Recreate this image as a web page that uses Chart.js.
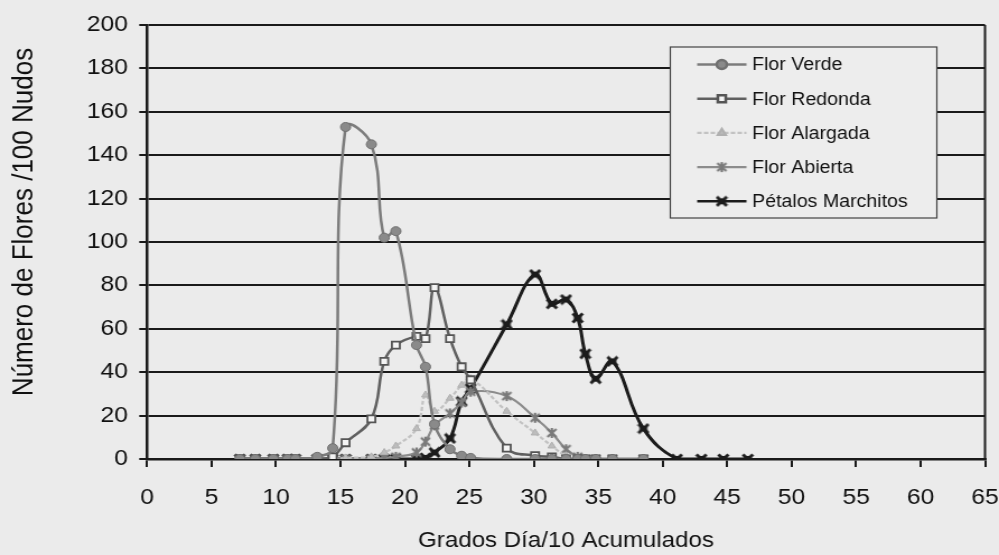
<!DOCTYPE html>
<html>
<head>
<meta charset="utf-8">
<title>Flores por grados día acumulados</title>
<script src="https://cdn.jsdelivr.net/npm/chart.js@4.4.1/dist/chart.umd.min.js"></script>
<style>
  html, body { margin: 0; padding: 0; background: #ebebeb; overflow: hidden; }
  #grafico { display: block; }
</style>
</head>
<body>
<!-- drawn at 892 wide and widened by CSS, like the printed figure -->
<canvas id="grafico" width="892" height="555" style="width:999px;height:555px"></canvas>
<script>
// Grados día/10 acumulados de cada muestreo
const grados = [7.2, 8.4, 9.8, 10.9, 11.5, 13.2, 14.4, 15.4, 17.4, 18.4, 19.3, 20.9, 21.6, 22.3, 23.5,
                24.4, 25.1, 27.9, 30.1, 31.4, 32.5, 33.4, 34.0, 34.8, 36.1, 38.5, 41.1, 43.0, 44.7, 46.6];

// Flores por 100 nudos en cada estado
const florVerde    = [0, 0, 0, 0, 0, 1, 5, 153, 145, 102, 105, 52.5, 42.5, 16, 4.5, 1.5, 0.5, 0, 0, 0, 0, 0, 0, 0, 0, 0];
const florRedonda  = [0, 0, 0, 0, 0, 0, 1, 7.5, 18.5, 45, 52.5, 56.5, 55.5, 79, 55.5, 42.5, 36.5, 5, 1.5, 1, 0, 0, 0, 0, 0, 0];
const florAlargada = [0, 0, 0, 0, 0, 0, 0, 0.5, 1, 3, 6, 14, 29.5, 22, 28, 34, 37, 22, 12, 6, 1.5, 0.5, 0, 0, 0, 0];
const florAbierta  = [0, 0, 0, 0, 0, 0, 0, 0, 0, 0.5, 1, 3, 8, 15.5, 21, 26, 31, 29, 19, 12, 4.5, 1, 0, 0, 0, 0];
const petalosMarchitos = [0, 0, 0, 0, 0, 0, 0, 0, 0, 0, 0, 0, 0.5, 3, 9.5, 26.5, 32.5, 62, 85, 71.5, 73.5,
                          65, 48.5, 37, 45, 14, 0, 0, 0, 0];

const xTicks = { min: 0, max: 65, step: 5 };
const yTicks = { min: 0, max: 200, step: 20 };

const tituloX = 'Grados Día/10 Acumulados';
const tituloY = 'Número de Flores /100 Nudos';

const FUENTE = "'Liberation Sans', Arial, sans-serif";

function puntos(valores) {
  return valores.map((v, i) => ({ x: grados[i], y: v }));
}

// asterisco gris (x con barra vertical)
function marcaAsterisco(color) {
  const c = document.createElement('canvas');
  c.width = 12; c.height = 12;
  const g = c.getContext('2d');
  g.strokeStyle = color;
  g.lineWidth = 2.2;
  g.beginPath();
  g.moveTo(2, 2); g.lineTo(10, 10);
  g.moveTo(10, 2); g.lineTo(2, 10);
  g.moveTo(6, 1); g.lineTo(6, 11);
  g.stroke();
  return c;
}

// cuadrado negro con aspa
function marcaMarchitos(color) {
  const c = document.createElement('canvas');
  c.width = 12; c.height = 12;
  const g = c.getContext('2d');
  g.fillStyle = color;
  g.fillRect(2.5, 3, 7, 6);
  g.strokeStyle = color;
  g.lineWidth = 3;
  g.beginPath();
  g.moveTo(1.5, 1.5); g.lineTo(10.5, 10.5);
  g.moveTo(10.5, 1.5); g.lineTo(1.5, 10.5);
  g.stroke();
  return c;
}

const fondo = {
  id: 'fondo',
  beforeDraw(chart) {
    const ctx = chart.ctx;
    ctx.save();
    ctx.fillStyle = '#ebebeb';
    ctx.fillRect(0, 0, chart.width, chart.height);
    ctx.restore();
  }
};

// marco derecho del área de trazado y título vertical (algo por encima del centro)
const marco = {
  id: 'marco',
  beforeDatasetsDraw(chart) {
    const a = chart.chartArea;
    const ctx = chart.ctx;
    ctx.save();
    ctx.strokeStyle = '#1a1a1a';
    ctx.lineWidth = 2;
    ctx.beginPath();
    ctx.moveTo(a.right, a.top);
    ctx.lineTo(a.right, a.bottom);
    ctx.stroke();

    ctx.translate(21.6, (a.top + a.bottom) / 2 - 20);
    ctx.rotate(-Math.PI / 2);
    ctx.font = '26px ' + FUENTE;
    ctx.fillStyle = '#111';
    ctx.textAlign = 'center';
    ctx.textBaseline = 'middle';
    ctx.fillText(tituloY, 0, 0);
    ctx.restore();
  }
};

// leyenda enmarcada dentro del área de trazado
const leyenda = {
  id: 'leyenda',
  afterDatasetsDraw(chart) {
    const ctx = chart.ctx;
    const a = chart.chartArea;
    const izq = a.right - 281;
    const arriba = a.top + 22;
    const ancho = 238;
    const alto = 171;
    ctx.save();
    ctx.fillStyle = '#ededed';
    ctx.fillRect(izq, arriba, ancho, alto);
    ctx.strokeStyle = '#444';
    ctx.lineWidth = 1.2;
    ctx.strokeRect(izq, arriba, ancho, alto);
    ctx.font = '17.5px ' + FUENTE;
    ctx.textBaseline = 'middle';
    chart.data.datasets.forEach((ds, i) => {
      const y = arriba + 17.5 + i * 34.2;
      ctx.strokeStyle = ds.borderColor;
      ctx.lineWidth = Math.min(ds.borderWidth, 2.5);
      ctx.setLineDash(ds.borderDash || []);
      ctx.beginPath();
      ctx.moveTo(izq + 24, y);
      ctx.lineTo(izq + 68, y);
      ctx.stroke();
      ctx.setLineDash([]);
      ctx.fillStyle = ds.pointBackgroundColor;
      ctx.strokeStyle = ds.pointBorderColor;
      Chart.helpers.drawPoint(ctx, {
        pointStyle: ds.pointStyle,
        radius: ds.pointRadius,
        rotation: 0,
        borderWidth: ds.pointBorderWidth
      }, izq + 46, y);
      ctx.fillStyle = '#111';
      ctx.fillText(ds.label, izq + 73, y + 1);
    });
    ctx.restore();
  }
};

new Chart(document.getElementById('grafico'), {
  type: 'scatter',
  data: {
    datasets: [
      {
        label: 'Flor Verde',
        data: puntos(florVerde),
        showLine: true,
        borderColor: '#7c7c7c',
        borderWidth: 2.5,
        pointStyle: 'circle',
        pointRadius: 4.5,
        pointBackgroundColor: '#8a8a8a',
        pointBorderColor: '#707070',
        pointBorderWidth: 1
      },
      {
        label: 'Flor Redonda',
        data: puntos(florRedonda),
        showLine: true,
        borderColor: '#606060',
        borderWidth: 2.5,
        pointStyle: 'rect',
        pointRadius: 5,
        pointBackgroundColor: '#f4f4f4',
        pointBorderColor: '#555555',
        pointBorderWidth: 1.8
      },
      {
        label: 'Flor Alargada',
        data: puntos(florAlargada),
        showLine: true,
        borderColor: '#c2c2c2',
        borderWidth: 2.2,
        borderDash: [4, 2],
        pointStyle: 'triangle',
        pointRadius: 4,
        pointBackgroundColor: '#bdbdbd',
        pointBorderColor: '#b0b0b0',
        pointBorderWidth: 1
      },
      {
        label: 'Flor Abierta',
        data: puntos(florAbierta),
        showLine: true,
        borderColor: '#8c8c8c',
        borderWidth: 2.2,
        pointStyle: marcaAsterisco('#7a7a7a'),
        pointRadius: 5,
        pointBackgroundColor: '#7a7a7a',
        pointBorderColor: '#7a7a7a',
        pointBorderWidth: 0
      },
      {
        label: 'Pétalos Marchitos',
        data: puntos(petalosMarchitos),
        showLine: true,
        borderColor: '#1c1c1c',
        borderWidth: 3,
        pointStyle: marcaMarchitos('#1c1c1c'),
        pointRadius: 5,
        pointBackgroundColor: '#1c1c1c',
        pointBorderColor: '#1c1c1c',
        pointBorderWidth: 0
      }
    ]
  },
  options: {
    responsive: false,
    animation: false,
    devicePixelRatio: 1,
    elements: { line: { tension: 0.4 } },
    layout: { padding: { left: 0, right: 12.5, top: 25, bottom: 0 } },
    plugins: {
      legend: { display: false },
      tooltip: { enabled: false }
    },
    scales: {
      x: {
        type: 'linear',
        min: xTicks.min,
        max: xTicks.max,
        afterFit(scale) {
          scale.height = 96;
          // la última etiqueta puede sobresalir del margen derecho
          scale.paddingLeft = 0;
          scale.paddingRight = 0;
        },
        ticks: {
          stepSize: xTicks.step,
          color: '#111',
          padding: 18,
          font: { family: FUENTE, size: 22 }
        },
        grid: {
          drawOnChartArea: false,
          drawTicks: true,
          tickLength: 8,
          color: '#1a1a1a',
          lineWidth: 2
        },
        border: { color: '#1a1a1a', width: 2.5 },
        title: {
          display: true,
          text: tituloX,
          color: '#111',
          font: { family: FUENTE, size: 21.5 },
          padding: { top: 0, bottom: 1 }
        }
      },
      y: {
        min: yTicks.min,
        max: yTicks.max,
        afterFit(scale) { scale.width = 131.3; },
        ticks: {
          stepSize: yTicks.step,
          color: '#111',
          padding: 10,
          font: { family: FUENTE, size: 22 }
        },
        grid: {
          color: '#1a1a1a',
          lineWidth: 2,
          tickLength: 7
        },
        border: { color: '#1a1a1a', width: 2.5 }
      }
    }
  },
  plugins: [fondo, marco, leyenda]
});
</script>
</body>
</html>
